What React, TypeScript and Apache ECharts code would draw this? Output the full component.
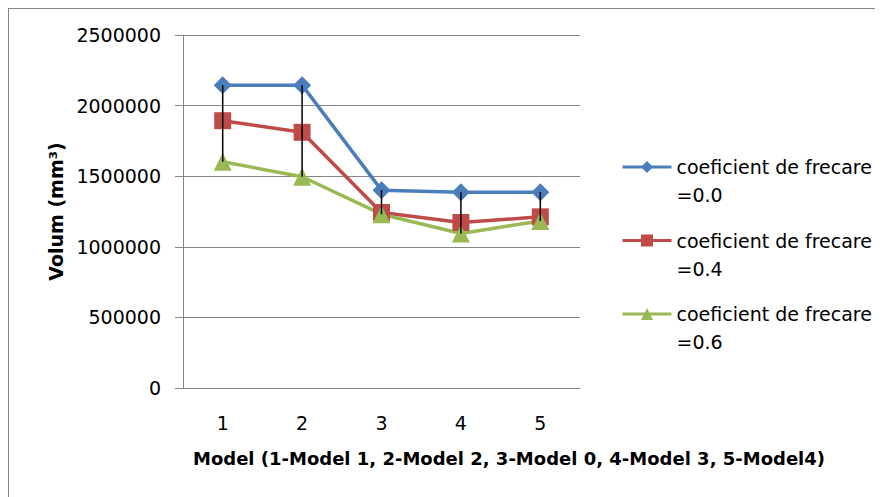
import React, { useEffect, useRef } from "react";
import * as echarts from "echarts";

const categories = ["1", "2", "3", "4", "5"];
const seriesNames = [
  "coeficient de frecare =0.0",
  "coeficient de frecare =0.4",
  "coeficient de frecare =0.6",
];
const mu00 = [2145000, 2145000, 1401000, 1387000, 1387000];
const mu04 = [1893000, 1811000, 1243000, 1172000, 1212000];
const mu06 = [1602000, 1496000, 1231000, 1094000, 1183000];
const yTicks = { min: 0, max: 2500000, interval: 500000 };
const yTitle = "Volum (mm³)";
const xTitle = "Model (1-Model 1, 2-Model 2, 3-Model 0, 4-Model 3, 5-Model4)";

const FONT = "DejaVu Sans";
const GRAY = "#868686";

export default function App() {
  const ref = useRef<HTMLDivElement>(null);
  useEffect(() => {
    if (!ref.current) return;
    const chart = echarts.init(ref.current, null, { renderer: "svg" });
    const all = [mu00, mu04, mu06];
    const hiLo = categories.map((_, i) => {
      const vals = all.map((s) => s[i]);
      return [i, Math.max(...vals), Math.min(...vals)];
    });
    const colors = ["#4A7EBB", "#BE4B48", "#98B954"];
    const symbols = ["diamond", "rect", "triangle"];
    const sizes = [18, 17, 18];
    chart.setOption({
      animation: false,
      textStyle: { fontFamily: FONT },
      grid: { left: 175, top: 27, width: 397, height: 353, containLabel: false },
      legend: {
        orient: "vertical",
        left: 608,
        top: 112,
        itemWidth: 49,
        itemHeight: 15,
        itemGap: -10.5,
        data: seriesNames,
        lineStyle: { width: 3 },
        formatter: (name: string) => "\n" + name.replace(" =", "\n="),
        textStyle: { fontFamily: FONT, fontSize: 19, lineHeight: 28, color: "#000" },
      },
      xAxis: {
        type: "category",
        data: categories,
        boundaryGap: true,
        axisLine: { lineStyle: { color: GRAY, width: 1 } },
        axisTick: { show: false },
        axisLabel: { fontFamily: FONT, fontSize: 19, color: "#000", margin: 25 },
        splitLine: { show: false },
      },
      yAxis: {
        type: "value",
        min: yTicks.min,
        max: yTicks.max,
        interval: yTicks.interval,
        name: yTitle,
        nameLocation: "middle",
        nameGap: 118,
        nameTextStyle: { fontFamily: FONT, fontSize: 19, fontWeight: "bold", color: "#000" },
        axisLine: { show: true, lineStyle: { color: GRAY, width: 1 } },
        axisTick: { show: true, length: 8, lineStyle: { color: GRAY } },
        axisLabel: {
          fontFamily: FONT,
          fontSize: 19,
          color: "#000",
          margin: 22,
          formatter: (v: number) => String(v),
        },
        splitLine: { show: true, lineStyle: { color: GRAY, width: 1 } },
      },
      graphic: [
        {
          type: "rect",
          shape: { x: 0, y: 0, width: 2000, height: 2000 },
          style: { fill: "none", stroke: GRAY, lineWidth: 2 },
          silent: true,
        },
        {
          type: "text",
          x: 501,
          y: 450,
          style: {
            text: xTitle,
            font: `bold 18px "${FONT}"`,
            fill: "#000",
            align: "center",
            verticalAlign: "middle",
          },
        },
      ],
      series: [
        ...[mu00, mu04, mu06].map((data, k) => ({
          name: seriesNames[k],
          type: "line",
          data,
          symbol: symbols[k],
          symbolSize: sizes[k],
          showSymbol: true,
          itemStyle: { color: colors[k] },
          lineStyle: { color: colors[k], width: 3.5 },
          z: 2,
        })),
        {
          name: "hilo",
          type: "custom",
          data: hiLo,
          encode: { x: 0, y: [1, 2] },
          z: 10,
          renderItem: (params: any, api: any) => {
            const p1 = api.coord([api.value(0), api.value(1)]);
            const p2 = api.coord([api.value(0), api.value(2)]);
            return {
              type: "line",
              shape: { x1: p1[0], y1: p1[1], x2: p2[0], y2: p2[1] },
              style: { stroke: "#000", lineWidth: 1.5 },
            };
          },
        },
      ],
    });
    return () => chart.dispose();
  }, []);
  return <div ref={ref} style={{ width: 875, height: 489 }} />;
}
